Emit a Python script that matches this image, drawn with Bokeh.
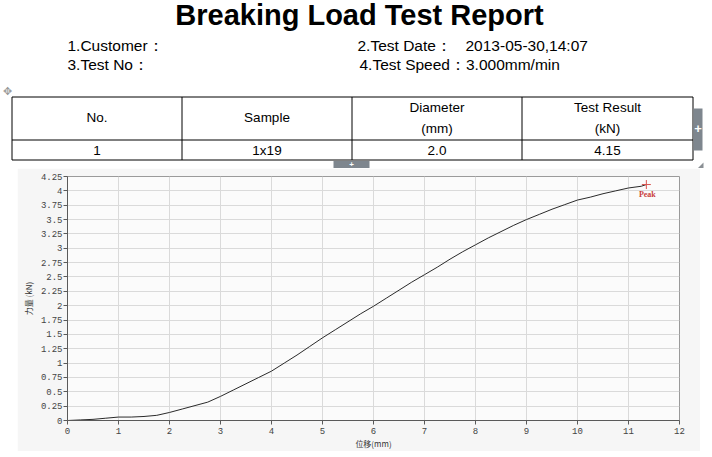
from bokeh.plotting import figure
from bokeh.layouts import column, row
from bokeh.models import Range1d, FixedTicker, Spacer
from bokeh.core.properties import value
from bokeh.embed import file_html
from bokeh.resources import INLINE

# ---------------- data ----------------
title = "Breaking Load Test Report"
info_left = ["1.Customer：", "3.Test No："]
info_right = ["2.Test Date：", "4.Test Speed：3.000mm/min"]
test_date = "2013-05-30,14:07"

table_header_top = ["No.", "Sample", "Diameter", "Test Result"]
table_header_unit = ["", "", "(mm)", "(kN)"]
table_row = ["1", "1x19", "2.0", "4.15"]

displacement = [0, 0.25, 0.5, 0.75, 1, 1.25, 1.5, 1.75, 2, 2.25, 2.5, 2.75, 3,
                3.25, 3.5, 3.75, 4, 4.25, 4.5, 4.75, 5, 5.25, 5.5, 5.75, 6,
                6.25, 6.5, 6.75, 7, 7.25, 7.5, 7.75, 8, 8.25, 8.5, 8.75, 9,
                9.25, 9.5, 9.75, 10, 10.25, 10.5, 10.75, 11, 11.25, 11.35]
force = [0.00, 0.01, 0.02, 0.04, 0.06, 0.06, 0.07, 0.09, 0.14, 0.20, 0.26, 0.32,
         0.42, 0.53, 0.64, 0.75, 0.86, 1.00, 1.14, 1.29, 1.44, 1.58, 1.72, 1.86,
         1.99, 2.13, 2.27, 2.41, 2.54, 2.67, 2.81, 2.94, 3.06, 3.18, 3.29, 3.40,
         3.50, 3.59, 3.68, 3.76, 3.84, 3.89, 3.95, 4.00, 4.05, 4.08, 4.11]

x_ticks = [0, 1, 2, 3, 4, 5, 6, 7, 8, 9, 10, 11, 12]
x_tick_labels = ["0", "1", "2", "3", "4", "5", "6", "7", "8", "9", "10", "11", "12"]
y_ticks = [0, 0.25, 0.5, 0.75, 1, 1.25, 1.5, 1.75, 2, 2.25, 2.5, 2.75, 3,
           3.25, 3.5, 3.75, 4, 4.25]
y_tick_labels = ["0", "0.25", "0.5", "0.75", "1", "1.25", "1.5", "1.75", "2",
                 "2.25", "2.5", "2.75", "3", "3.25", "3.5", "3.75", "4", "4.25"]
x_label = "位移(mm)"
y_label = "力量 (kN)"
peak_label = "Peak"

SANS = value("Liberation Sans")

# ---------------- header (title, info, table) ----------------
h = figure(width=712, height=168, x_range=Range1d(0, 712), y_range=Range1d(168, 0),
           output_backend="svg", toolbar_location=None, x_axis_type=None, y_axis_type=None,
           min_border=0, outline_line_color=None, background_fill_color="white",
           border_fill_color="white")
h.grid.visible = False

h.text(x=[359], y=[14], text=[title], text_font=SANS, text_font_size="29px",
       text_font_style="bold", text_align="center", text_baseline="middle", text_color="black")
h.text(x=[67, 67], y=[45, 64], text=info_left, text_font=SANS, text_font_size="15.5px",
       text_align="left", text_baseline="middle", text_color="black")
h.text(x=[357, 359], y=[45, 64], text=info_right, text_font=SANS, text_font_size="15.5px",
       text_align="left", text_baseline="middle", text_color="black")
h.text(x=[465], y=[45], text=[test_date], text_font=SANS, text_font_size="15.5px",
       text_align="left", text_baseline="middle", text_color="black")

# table grid
col_edges = [11.5, 181.5, 351.5, 521.5, 692.5]
top, mid, bot = 96.5, 139.5, 159.5
h.segment(x0=[col_edges[0]] * 3, y0=[top, mid, bot], x1=[col_edges[-1]] * 3, y1=[top, mid, bot],
          line_color="black", line_width=1)
h.segment(x0=col_edges, y0=[top] * 5, x1=col_edges, y1=[bot] * 5, line_color="black", line_width=1)

centers = [(col_edges[i] + col_edges[i + 1]) / 2 for i in range(4)]
hx, hy, ht = [], [], []
for cx, t, u in zip(centers, table_header_top, table_header_unit):
    if u:
        hx += [cx, cx]; hy += [107, 128]; ht += [t, u]
    else:
        hx.append(cx); hy.append(117); ht.append(t)
h.text(x=hx, y=hy, text=ht, text_font=SANS, text_font_size="13.5px", text_align="center",
       text_baseline="middle", text_color="black")
h.text(x=centers, y=[150] * 4, text=table_row, text_font=SANS, text_font_size="13.5px",
       text_align="center", text_baseline="middle", text_color="black")

# editor handles (decorations)
h.text(x=[7], y=[91], text=["✥"], text_font=value("DejaVu Sans"), text_font_size="11px",
       text_align="center", text_baseline="middle", text_color="#9a9a9a")
h.quad(left=[693], right=[702], top=[108], bottom=[150], fill_color="#7e868e", line_color=None)
h.text(x=[697.5], y=[128], text=["+"], text_font=SANS, text_font_size="13px",
       text_font_style="bold", text_align="center", text_baseline="middle", text_color="white")
h.quad(left=[333], right=[369], top=[160.5], bottom=[168], fill_color="#7e868e", line_color=None)
h.text(x=[351], y=[164], text=["+"], text_font=SANS, text_font_size="8px",
       text_font_style="bold", text_align="center", text_baseline="middle", text_color="white")
h.patch(x=[697, 703, 703], y=[168, 162, 168], fill_color="#8a8f94", line_color=None)

# ---------------- chart ----------------
c = figure(width=683, height=283, x_range=Range1d(0, 12), y_range=Range1d(0, 4.25),
           output_backend="svg", toolbar_location=None,
           min_border_left=50, min_border_right=21, min_border_top=8, min_border_bottom=29,
           background_fill_color="#fbfbfb", border_fill_color="#f6f6f6",
           outline_line_color="#9a9a9a")

c.line(displacement, force, line_color="#2a2a2a", line_width=1)
peak_x, peak_y = displacement[-1], force[-1]
c.scatter([peak_x], [peak_y], marker="cross", size=9, line_color="#d9534f", line_width=1)
c.text(x=[peak_x], y=[peak_y], text=[peak_label], text_font=value("Liberation Serif"),
       text_font_size="8px", text_font_style="bold", text_color="#c9403c",
       text_align="center", text_baseline="top", x_offset=1, y_offset=5)

c.xaxis.ticker = FixedTicker(ticks=x_ticks)
c.xaxis.major_label_overrides = dict(zip(x_ticks, x_tick_labels))
c.yaxis.ticker = FixedTicker(ticks=y_ticks)
c.yaxis.major_label_overrides = dict(zip(y_ticks, y_tick_labels))
c.xgrid.ticker = FixedTicker(ticks=x_ticks)
c.ygrid.ticker = FixedTicker(ticks=y_ticks)
c.grid.grid_line_color = "#dadada"
c.grid.grid_line_width = 1

for ax in (c.xaxis, c.yaxis):
    ax.minor_tick_line_color = None
    ax.major_tick_in = 0
    ax.major_tick_out = 4
    ax.axis_line_color = "#5a5a5a"
    ax.major_tick_line_color = "#5a5a5a"
    ax.major_label_text_font = "Liberation Mono"
    ax.major_label_text_font_size = "9px"
    ax.major_label_text_color = "#444444"
    ax.axis_label_text_font = "Noto Sans CJK SC"
    ax.axis_label_text_font_size = "8px"
    ax.axis_label_text_font_style = "normal"
    ax.axis_label_text_color = "#333333"

c.xaxis.axis_label = x_label
c.yaxis.axis_label = y_label
c.xaxis.major_label_standoff = 3
c.xaxis.axis_label_standoff = 1
c.yaxis.major_label_standoff = 1
c.yaxis.axis_label_standoff = 4

# footer strip
f = figure(width=712, height=6, x_range=Range1d(0, 712), y_range=Range1d(0, 6),
           output_backend="svg", toolbar_location=None, x_axis_type=None, y_axis_type=None,
           min_border=0, outline_line_color=None, background_fill_color="#e4e4e4",
           border_fill_color="#e4e4e4")
f.grid.visible = False

layout = column(h, row(Spacer(width=17, height=283), c, Spacer(width=12, height=283)), f)

open("out.html", "w").write(file_html(layout, INLINE))
